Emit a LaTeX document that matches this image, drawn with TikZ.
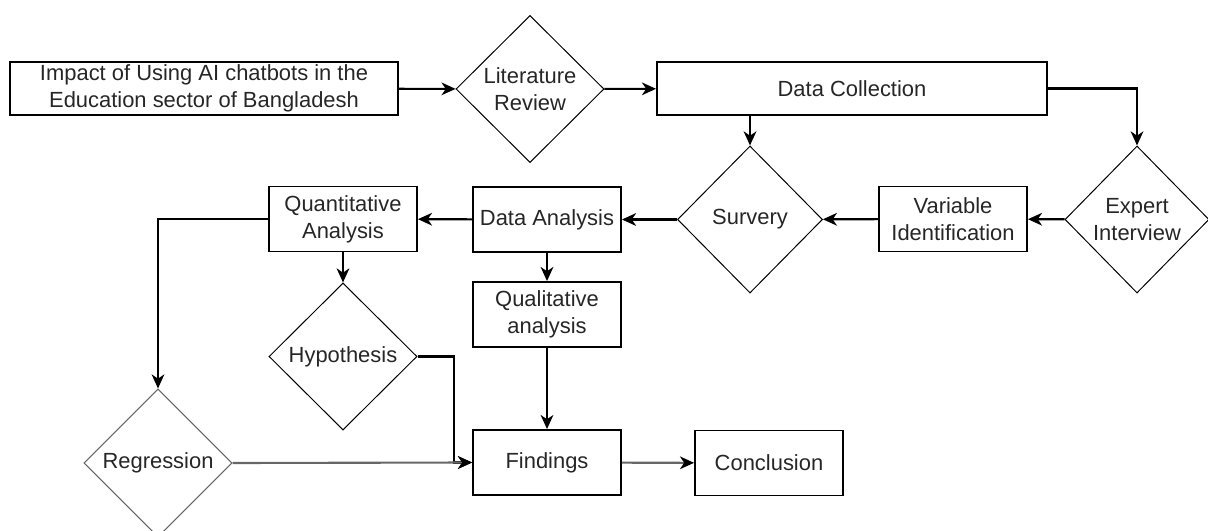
\documentclass[tikz,border=0pt]{standalone}
\usepackage{fontspec}
\setmainfont{Liberation Sans}
\usetikzlibrary{shapes.geometric,arrows.meta}

\begin{document}
\begin{tikzpicture}[x=0.025cm, y=-0.025cm,
	every node/.style={font=\fontsize{15.6}{19.2}\selectfont, text=black!85, align=center},
	stepbox/.style={draw, line width=1.3pt, minimum width=3.7cm, minimum height=1.625cm, inner sep=1pt},
	widebox/.style={draw, line width=1.3pt, minimum width=9.7cm, minimum height=1.325cm, inner sep=1pt},
	decision/.style={draw, diamond, aspect=1, line width=0.7pt, inner sep=0pt, minimum width=3.7cm, minimum height=3.675cm},
	flow/.style={line width=1.5pt, -{Stealth[length=10pt, width=9pt, inset=3pt, black]}}]
	\useasboundingbox (0,0) rectangle (1208,531);
	% Fila superior
		\node[widebox] (topic) at (204,88.5) {Impact of Using AI chatbots in the\\Education sector of Bangladesh};
		\node[decision] (litrev) at (530,89) {Literature\\Review};
		\node[widebox, minimum width=9.75cm] (datacol) at (852,88.5) {Data Collection};
	
	% Fila media
		\node[decision, minimum width=3.6cm] (expert) at (1137,219.5) {Expert\\Interview};
		\node[stepbox] (varid) at (953,219) {Variable\\Identification};
		\node[decision, minimum width=3.625cm] (survey) at (750,219.5) {Survery};
		\node[stepbox] (dataan) at (547,219.5) {Data Analysis};
		\node[stepbox] (quant) at (343,219) {Quantitative\\Analysis};
	
	% Fila inferior
		\node[stepbox] (qual) at (547,314.5) {Qualitative\\analysis};
		\node[decision] (hypo) at (343,356.5) {Hypothesis};
		\node[decision, draw=black!60, minimum height=3.7cm] (regr) at (158,463) {Regression};
		\node[stepbox] (findings) at (547,462.5) {Findings};
		\node[stepbox] (concl) at (769,463) {Conclusion};
		\coordinate (hbend) at (454,356.5);
	
	% Flechas
		\draw[flow] (topic) -- (litrev);
		\draw[flow] (litrev) -- (datacol);
		\draw[flow] (datacol.east) -| (expert.north);
		\draw[flow] (survey.north |- datacol.south) -- (survey.north);
		\draw[flow] (expert) -- (varid);
		\draw[flow] (varid) -- (survey);
		\draw[flow] (survey) -- (dataan);
		\draw[flow] (dataan) -- (quant);
		\draw[flow] (dataan) -- (qual);
		\draw[flow] (quant) -- (hypo);
		\draw[flow] (quant.west) -| (regr.north);
		\draw[flow] (hypo.east) -- (hbend) |- (findings.west);
		\draw[flow, draw=black!60] (regr.east) -- (findings.west);
		\draw[flow] (qual) -- (findings);
		\draw[flow, draw=black!60] (findings) -- (concl);
\end{tikzpicture}
\end{document}
